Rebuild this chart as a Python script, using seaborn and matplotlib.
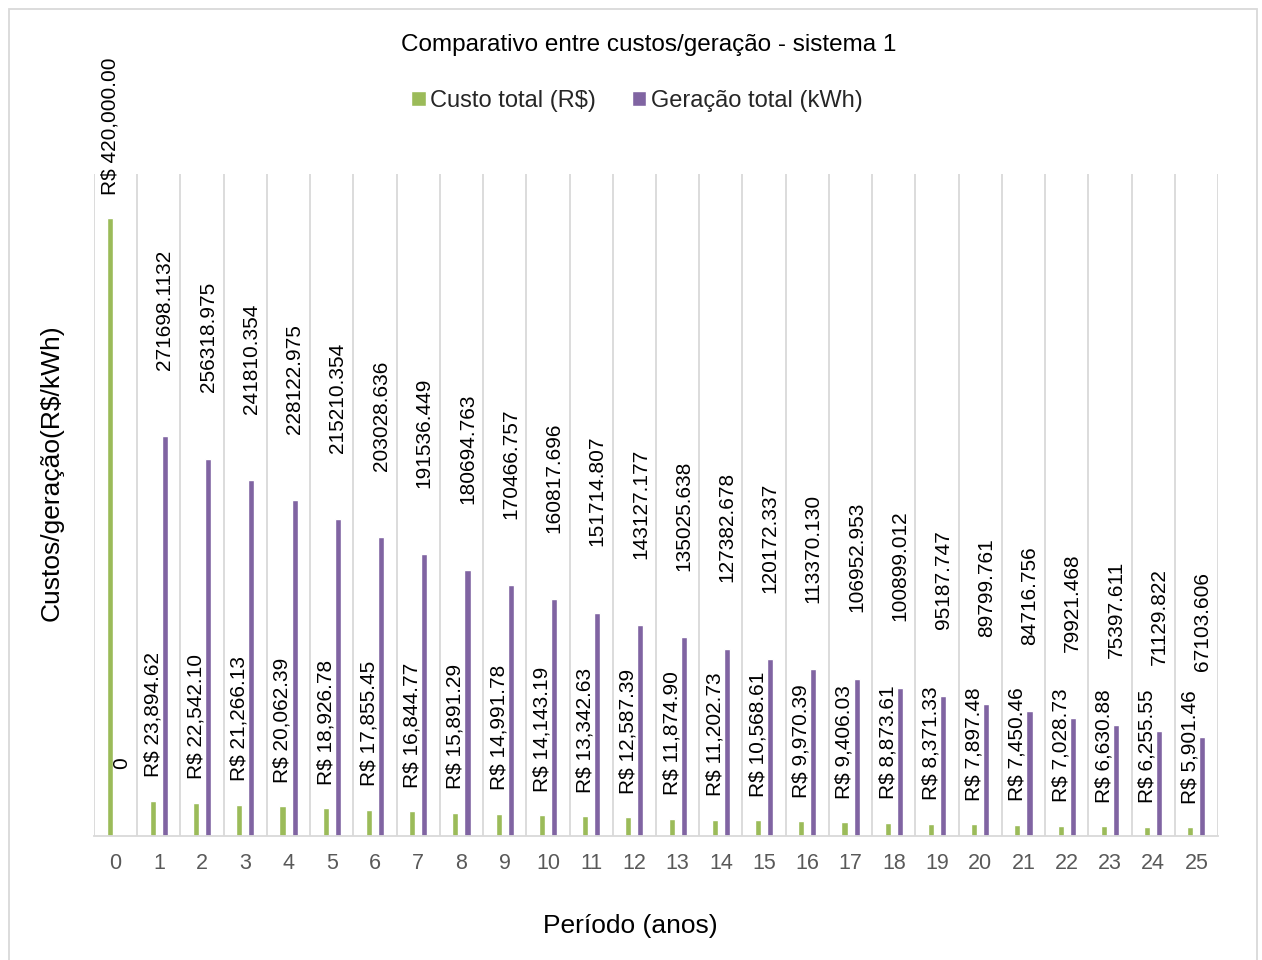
import numpy as np
import pandas as pd
import matplotlib
matplotlib.use("Agg")
import matplotlib.pyplot as plt
from matplotlib.patches import Rectangle
import seaborn as sns

# Anos do período de análise
anos = list(range(26))

# Custo total por ano (R$)
custo_total = [420000.00, 23894.62, 22542.10, 21266.13, 20062.39, 18926.78,
               17855.45, 16844.77, 15891.29, 14991.78, 14143.19, 13342.63,
               12587.39, 11874.90, 11202.73, 10568.61, 9970.39, 9406.03,
               8873.61, 8371.33, 7897.48, 7450.46, 7028.73, 6630.88,
               6255.55, 5901.46]

# Geração total por ano (kWh), como aparece nos rótulos
geracao_rotulos = ["0", "271698.1132", "256318.975", "241810.354", "228122.975",
                   "215210.354", "203028.636", "191536.449", "180694.763",
                   "170466.757", "160817.696", "151714.807", "143127.177",
                   "135025.638", "127382.678", "120172.337", "113370.130",
                   "106952.953", "100899.012", "95187.747", "89799.761",
                   "84716.756", "79921.468", "75397.611", "71129.822",
                   "67103.606"]
geracao_total = [float(s) for s in geracao_rotulos]

series = ["Custo total (R$)", "Geração total (kWh)"]
cores = ["#9BBB59", "#8064A2"]

df = pd.DataFrame({
    "ano": anos * 2,
    "serie": [series[0]] * len(anos) + [series[1]] * len(anos),
    "valor": custo_total + geracao_total,
})

sns.set_style("white")
plt.rcParams["font.family"] = ["Liberation Sans", "DejaVu Sans"]
plt.rcParams["text.parse_math"] = False

W, H = 1262, 960
fig = plt.figure(figsize=(W / 100, H / 100), dpi=100)
ax = fig.add_axes([94 / W, 1 - 836 / H, (1218 - 94) / W, (836 - 174) / H])

sns.barplot(data=df, x="ano", y="valor", hue="serie", palette=cores,
            width=0.56, gap=0.5, dodge=True, errorbar=None, ax=ax,
            saturation=1)

ax.set_xlim(-0.5, len(anos) - 0.5)
ax.set_ylim(0, 450000)
ax.set_yticks([])
ax.set_xlabel("")
ax.set_ylabel("")

# Linhas verticais entre as categorias
ax.set_xticks(np.arange(-0.5, len(anos), 1), minor=True)
ax.grid(which="minor", axis="x", color="#d9d9d9", lw=1.3)
ax.grid(which="major", visible=False)
ax.set_axisbelow(True)
ax.tick_params(which="both", length=0)
ax.tick_params(axis="x", which="major", labelsize=15.5, labelcolor="#595959", pad=12)

for s in ["top", "left", "right"]:
    ax.spines[s].set_visible(False)
ax.spines["bottom"].set_color("#d9d9d9")
ax.spines["bottom"].set_linewidth(1.3)

# Rótulos de dados verticais
rot_custo = ["R$ {:,.2f}".format(v) for v in custo_total]
ax.bar_label(ax.containers[0], labels=rot_custo, rotation=90, padding=17,
             fontsize=15, color="black")
ax.bar_label(ax.containers[1], labels=geracao_rotulos, rotation=90, padding=48,
             fontsize=15, color="black")

# Legenda no topo
handles, labels = ax.get_legend_handles_labels()
if ax.get_legend() is not None:
    ax.get_legend().remove()
fig.legend(handles, labels, loc="center", bbox_to_anchor=(637 / W, 1 - 101 / H),
           ncol=2, frameon=False, fontsize=17, handlelength=0.62,
           handleheight=0.62, handletextpad=0.2, columnspacing=1.5)

fig.text(649 / W, 1 - 45 / H, "Comparativo entre custos/geração - sistema 1",
         ha="center", va="center", fontsize=17.5, color="black")
fig.text(52 / W, 1 - 473 / H, "Custos/geração(R$/kWh)", rotation=90,
         ha="center", va="center", fontsize=19, color="black")
fig.text(630 / W, 1 - 926 / H, "Período (anos)", ha="center", va="center",
         fontsize=19, color="black")

# Moldura do gráfico
fig.add_artist(Rectangle((9 / W, -0.05), (1257 - 9) / W, 1.05 - 9 / H,
                         transform=fig.transFigure, fill=False,
                         ec="#d9d9d9", lw=1.3))

fig.savefig("out.png", dpi=100)
